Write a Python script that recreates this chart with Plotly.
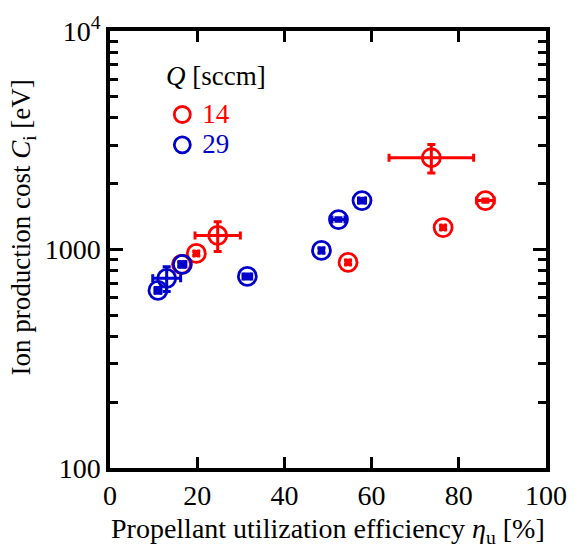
import plotly.graph_objects as go

# Series Q = 14 sccm (red)
eta_14 = [16.4, 19.8, 24.7, 54.6, 73.7, 76.4, 86.1]
ci_14 = [855, 959, 1160, 873, 2630, 1260, 1674]
eta_err_14 = [0.5, 0.5, 5.2, 0.5, 9.7, 0.5, 2.0]
ci_err_14 = [20, 20, 180, 20, 390, 25, 30]

# Series Q = 29 sccm (blue)
eta_29 = [11.0, 13.0, 16.6, 31.5, 48.5, 52.4, 57.8]
ci_29 = [650, 738, 855, 753, 990, 1371, 1674]
eta_err_29 = [0.7, 3.2, 0.8, 1.0, 0.5, 1.5, 0.8]
ci_err_29 = [20, 95, 25, 20, 25, 25, 40]

RED = "#ff0000"
BLUE = "#0000cc"
FONT = "Liberation Serif"
FS = 28

fig = go.Figure()
for x, y, ex, ey, col, name in [
    (eta_14, ci_14, eta_err_14, ci_err_14, RED, "14"),
    (eta_29, ci_29, eta_err_29, ci_err_29, BLUE, "29"),
]:
    fig.add_trace(go.Scatter(
        x=x, y=y, mode="markers",
        name=f"<span style='color:{col};font-size:27px'>{name}</span>",
        marker=dict(symbol="circle-open", size=18, color=col, line=dict(width=2.8, color=col)),
        error_x=dict(type="data", array=ex, color=col, thickness=3, width=4),
        error_y=dict(type="data", array=ey, color=col, thickness=3, width=4),
    ))

axis_common = dict(
    showline=True, linecolor="black", linewidth=3.5, mirror="ticks",
    ticks="inside", tickcolor="black", tickwidth=3, showgrid=False, zeroline=False,
    tickfont=dict(family=FONT, size=FS, color="black"),
)

fig.update_xaxes(range=[0, 100], tickvals=[0, 20, 40, 60, 80, 100], ticklen=11, **axis_common)
fig.update_yaxes(
    type="log", range=[2, 4],
    tickvals=[100, 1000, 10000], ticktext=["100", "1000", "10<sup>4</sup>"], ticklen=13,
    minor=dict(ticks="inside", ticklen=8, tickwidth=3, tickcolor="black",
               tickvals=[200, 300, 400, 500, 600, 700, 800, 900,
                         2000, 3000, 4000, 5000, 6000, 7000, 8000, 9000]),
    **axis_common,
)

fig.update_layout(
    width=579, height=556,
    margin=dict(l=110, r=24, t=30, b=88),
    paper_bgcolor="white", plot_bgcolor="white",
    font=dict(family=FONT, size=FS, color="black"),
    showlegend=True,
    legend=dict(
        x=0.12, y=0.855, xanchor="left", yanchor="top",
        bgcolor="rgba(0,0,0,0)", borderwidth=0,
        font=dict(family=FONT, size=21), itemwidth=30, tracegroupgap=0,
    ),
    annotations=[
        dict(text="<i>Q</i> [sccm]", xref="paper", yref="paper", x=0.124, y=0.897,
             xanchor="left", yanchor="middle", showarrow=False,
             font=dict(family=FONT, size=27)),
        dict(text="Propellant utilization efficiency <i>η</i><sub>u</sub> [%]",
             xref="paper", yref="paper", x=0.5, y=-0.142, xanchor="center", yanchor="middle",
             showarrow=False, font=dict(family=FONT, size=FS)),
        dict(text="Ion production cost <i>C</i><sub>i</sub> [eV]",
             xref="paper", yref="paper", x=-0.2, y=0.55, xanchor="center", yanchor="middle",
             textangle=-90, showarrow=False, font=dict(family=FONT, size=27)),
    ],
)

fig.write_html("out.html")
